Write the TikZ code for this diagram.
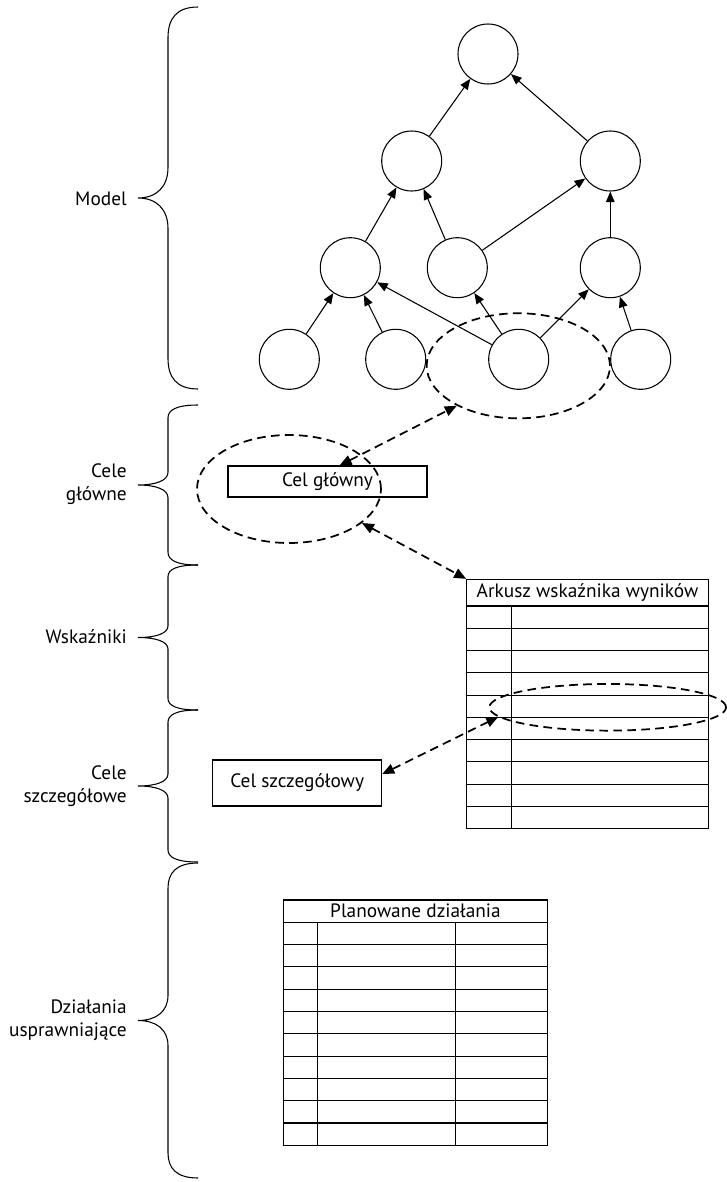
\documentclass[tikz,border=0pt]{standalone}
\usepackage{fontspec}
\setmainfont{PT Sans}
\usetikzlibrary{arrows.meta}
\usetikzlibrary{shapes.geometric}
\tikzset{
	nodestyle/.style={circle,draw=black,minimum size=45pt,inner sep=0pt,line width=0.8pt},
	goalstyle/.style={rectangle,draw=black,inner sep=0pt,line width=0.8pt},
	headstyle/.style={rectangle,draw=black,inner sep=0pt,line width=0.8pt},
	ringstyle/.style={ellipse,draw=black,dash pattern=on 6.5pt off 4pt,line width=1.3pt,inner sep=0pt},
	edgestyle/.style={-{Triangle[length=8pt,width=6.5pt]},line width=0.8pt},
	linkstyle/.style={{Triangle[length=9pt,width=7.5pt]}-{Triangle[length=9pt,width=7.5pt]},dash pattern=on 6.5pt off 4pt,line width=1.3pt},
	sidestyle/.style={line width=0.8pt},
	labelstyle/.style={anchor=east,align=right,inner sep=0pt}
}

\begin{document}
\begin{tikzpicture}[x=0.75pt,y=-0.75pt]
		\fontsize{14.5}{17}\selectfont
		\useasboundingbox (0,0) rectangle (726,1182);
		\node[nodestyle] (n0) at (488,54) {};
		\node[nodestyle] (n1a) at (411.7,161) {};
		\node[nodestyle] (n1b) at (610.3,161) {};
		\node[nodestyle] (n2a) at (350.3,267.7) {};
		\node[nodestyle] (n2b) at (457.3,267.7) {};
		\node[nodestyle] (n2c) at (610.3,267.7) {};
		\node[nodestyle] (n3a) at (289.3,359.3) {};
		\node[nodestyle] (n3b) at (395.7,359.3) {};
		\node[nodestyle] (n3c) at (518.7,359.3) {};
		\node[nodestyle] (n3d) at (640.7,359.3) {};
		\draw[edgestyle] (n1a)--(n0);
		\draw[edgestyle] (n1b)--(n0);
		\draw[edgestyle] (n2a)--(n1a);
		\draw[edgestyle] (n2b)--(n1a);
		\draw[edgestyle] (n2b)--(n1b);
		\draw[edgestyle] (n2c)--(n1b);
		\draw[edgestyle] (n3a)--(n2a);
		\draw[edgestyle] (n3b)--(n2a);
		\draw[edgestyle] (n3c)--(n2a);
		\draw[edgestyle] (n3c)--(n2b);
		\draw[edgestyle] (n3c)--(n2c);
		\draw[edgestyle] (n3d)--(n2c);
		\node[ringstyle,minimum width=137.5pt,minimum height=78.8pt] (ringmodel) at (518.3,365.8) {};
		\node[goalstyle,minimum width=149.25pt,minimum height=23.25pt] (celg) at (327.5,481.5) {Cel główny};
		\node[ringstyle,minimum width=138pt,minimum height=81pt] (ringcel) at (289,489) {};
		\node[headstyle,minimum width=181.2pt,minimum height=20pt] (arkusz) at (587.5,592.7) {Arkusz wskaźnika wyników};
		\foreach \r in {0,...,9}
			\draw[sidestyle] (466.7,{606+\r*22.27}) rectangle (708.3,{628.27+\r*22.27});
		\draw[sidestyle] (511.7,606) -- (511.7,828.7);
		\node[ringstyle,minimum width=177.5pt,minimum height=35pt] (ringrow) at (607.7,707.3) {};
		\node[goalstyle,minimum width=126.75pt,minimum height=34.5pt] (cels) at (297.2,783) {Cel szczegółowy};
		\draw[linkstyle] (celg.53)--(ringmodel.213);
		\draw[linkstyle] (ringcel.-25)--(arkusz.north west);
		\draw[linkstyle] (cels.6)--(ringrow.185);
		\node[headstyle,minimum width=198.3pt,minimum height=16.7pt] (planowane) at (415.5,911.15) {Planowane działania};
		\foreach \r in {0,...,9}
			\draw[sidestyle] (283.3,{922.3+\r*22.3}) rectangle (547.7,{944.6+\r*22.3});
		\draw[sidestyle] (317.3,922.3) -- (317.3,1145.3);
		\draw[sidestyle] (455.3,922.3) -- (455.3,1145.3);
		\foreach \t/\b in {7/389,405/565,565/710,710/862,863/1178}{
			\pgfmathsetmacro\c{0.08*(\b-\t)}
			\pgfmathsetmacro\m{(\t+\b)/2}
			\draw[sidestyle] (198,\t) .. controls (176,\t) and (168,{\t+0.4*\c}) .. (168,{\t+\c})
				-- (168,{\m-\c}) .. controls (168,{\m-0.35*\c}) and (156,\m) .. (138,\m)
				.. controls (156,\m) and (168,{\m+0.35*\c}) .. (168,{\m+\c})
				-- (168,{\b-\c}) .. controls (168,{\b-0.4*\c}) and (176,\b) .. (198,\b);
		}
		\node[labelstyle] (lmodel) at (127,199) {Model};
		\node[labelstyle] (lcelg) at (127,484) {Cele\\główne};
		\node[labelstyle] (lwsk) at (127,637) {Wskaźniki};
		\node[labelstyle] (lcels) at (127,786) {Cele\\szczegółowe};
		\node[labelstyle] (ldzial) at (127,1020) {Działania\\usprawniające};
\end{tikzpicture}
\end{document}
